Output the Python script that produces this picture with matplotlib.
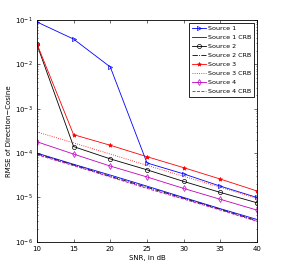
import matplotlib
matplotlib.use("Agg")
import matplotlib.pyplot as plt

snr = [10, 15, 20, 25, 30, 35, 40]

src1 = [0.09, 0.037, 0.0087, 6.0e-5, 3.4e-5, 1.8e-5, 1.0e-5]
src2 = [0.028, 1.4e-4, 7.4e-5, 4.2e-5, 2.3e-5, 1.3e-5, 7.6e-6]
src3 = [0.029, 2.6e-4, 1.5e-4, 8.3e-5, 4.7e-5, 2.6e-5, 1.4e-5]
src4 = [1.8e-4, 9.5e-5, 5.1e-5, 2.9e-5, 1.6e-5, 9.1e-6, 5.2e-6]

crb1 = [1.0e-4, 5.6e-5, 3.2e-5, 1.8e-5, 1.0e-5, 5.6e-6, 3.2e-6]
crb2 = [9.6e-5, 5.4e-5, 3.0e-5, 1.7e-5, 9.6e-6, 5.4e-6, 3.0e-6]
crb3 = [3.0e-4, 1.7e-4, 9.5e-5, 5.3e-5, 3.0e-5, 1.7e-5, 9.5e-6]
crb4 = [9.2e-5, 5.2e-5, 2.9e-5, 1.6e-5, 9.2e-6, 5.2e-6, 2.9e-6]

fig = plt.figure(figsize=(2.84, 2.73), dpi=100)
ax = fig.add_axes([0.130, 0.114, 0.775, 0.813])

lw = 0.6
ms = 3
ax.semilogy(snr, src1, 'b>-', lw=lw, ms=ms, mfc='none', mew=0.5, label='Source 1')
ax.semilogy(snr, crb1, 'b-', lw=lw, label='Source 1 CRB')
ax.semilogy(snr, src2, 'ko-', lw=lw, ms=ms, mfc='none', mew=0.5, label='Source 2')
ax.semilogy(snr, crb2, 'k-.', lw=lw, label='Source 2 CRB')
ax.semilogy(snr, src3, 'r*-', lw=lw, ms=ms, mew=0.5, label='Source 3')
ax.semilogy(snr, crb3, 'r:', lw=lw, label='Source 3 CRB')
ax.semilogy(snr, src4, 'md-', lw=lw, ms=ms, mfc='none', mew=0.5, label='Source 4')
ax.semilogy(snr, crb4, 'm--', lw=lw, label='Source 4 CRB')

ax.set_xlim(10, 40)
ax.set_ylim(1e-6, 1e-1)
ax.set_xticks(snr)
ax.tick_params(which='both', direction='in', top=True, right=True, labelsize=5,
               width=0.4, length=2)
ax.tick_params(axis='x', pad=3)
ax.tick_params(axis='y', pad=3)
ax.tick_params(which='minor', length=1)
for s in ax.spines.values():
    s.set_linewidth(0.6)

ax.set_xlabel('SNR, in dB', fontsize=5, labelpad=2)
ax.set_ylabel('RMSE of Direction\u2212Cosine', fontsize=5, labelpad=2)

leg = ax.legend(loc='upper right', fontsize=4.6, fancybox=False, edgecolor='k',
                handlelength=2.2, labelspacing=0.55, borderpad=0.4,
                handletextpad=0.3, borderaxespad=0.5, framealpha=1)
leg.get_frame().set_linewidth(0.6)

fig.savefig('out.png', dpi=100)
